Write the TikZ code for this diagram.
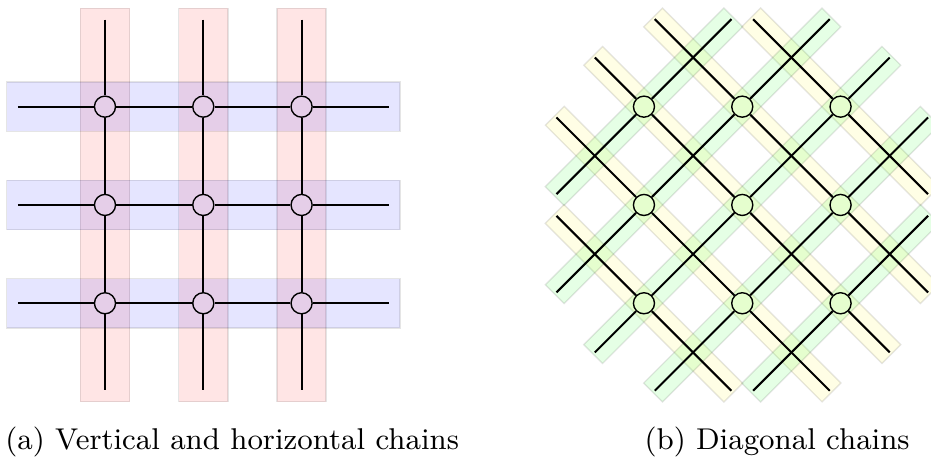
\documentclass[tikz,border=0pt]{standalone}
\begin{document}
\begin{tikzpicture}[
  band/.style={draw=black, draw opacity=0.1, fill opacity=0.1},
  rband/.style={band, fill=red},
  bband/.style={band, fill=blue},
  dband/.style={band, rectangle, inner sep=0pt, minimum height=0.27cm},
  yband/.style={dband, fill=yellow, rotate=-45},
  gband/.style={dband, fill=green, rotate=45},
  site/.style={circle, draw, thin, inner sep=0pt, minimum size=6.1pt},
  chain/.style={semithick},
  caption/.style={anchor=base west, inner sep=0pt, font=\fontsize{8.7}{10}\selectfont}]
\useasboundingbox (-1.068,1.085) rectangle (8.403,-3.645);

% (a) vertical and horizontal chains
\draw[rband] (-0.25,1.0) rectangle (0.25,-3.0);
\draw[rband] (0.75,1.0) rectangle (1.25,-3.0);
\draw[rband] (1.75,1.0) rectangle (2.25,-3.0);
\draw[bband] (-1.0,0.25) rectangle (3.0,-0.25);
\draw[bband] (-1.0,-0.75) rectangle (3.0,-1.25);
\draw[bband] (-1.0,-1.75) rectangle (3.0,-2.25);

\node[site] (a00) at (0,0) {};
\node[site] (a10) at (1,0) {};
\node[site] (a20) at (2,0) {};
\node[site] (a01) at (0,-1) {};
\node[site] (a11) at (1,-1) {};
\node[site] (a21) at (2,-1) {};
\node[site] (a02) at (0,-2) {};
\node[site] (a12) at (1,-2) {};
\node[site] (a22) at (2,-2) {};

\draw[chain] (a00) ++(0,0.885) -- (a00) -- (a01) -- (a02) -- ++(0,-0.885);
\draw[chain] (a10) ++(0,0.885) -- (a10) -- (a11) -- (a12) -- ++(0,-0.885);
\draw[chain] (a20) ++(0,0.885) -- (a20) -- (a21) -- (a22) -- ++(0,-0.885);
\draw[chain] (a00) ++(-0.885,0) -- (a00) -- (a10) -- (a20) -- ++(0.885,0);
\draw[chain] (a01) ++(-0.885,0) -- (a01) -- (a11) -- (a21) -- ++(0.885,0);
\draw[chain] (a02) ++(-0.885,0) -- (a02) -- (a12) -- (a22) -- ++(0.885,0);

% (b) diagonal chains
\node[yband, minimum width=2.57cm] (y2) at (7.483,0) {};
\node[yband, minimum width=3.98cm] (y1) at (6.983,-0.5) {};
\node[yband, minimum width=4.29cm] (y0) at (6.483,-1) {};
\node[yband, minimum width=3.98cm] (ym1) at (5.983,-1.5) {};
\node[yband, minimum width=2.57cm] (ym2) at (5.483,-2) {};
\node[gband, minimum width=2.57cm] (g0) at (5.483,0) {};
\node[gband, minimum width=3.98cm] (g1) at (5.983,-0.5) {};
\node[gband, minimum width=4.29cm] (g2) at (6.483,-1) {};
\node[gband, minimum width=3.98cm] (g3) at (6.983,-1.5) {};
\node[gband, minimum width=2.57cm] (g4) at (7.483,-2) {};

\node[site] (b00) at (5.483,0) {};
\node[site] (b10) at (6.483,0) {};
\node[site] (b20) at (7.483,0) {};
\node[site] (b01) at (5.483,-1) {};
\node[site] (b11) at (6.483,-1) {};
\node[site] (b21) at (7.483,-1) {};
\node[site] (b02) at (5.483,-2) {};
\node[site] (b12) at (6.483,-2) {};
\node[site] (b22) at (7.483,-2) {};

\draw[chain] (b20) ++(-0.89,0.89) -- (b20) -- ++(0.89,-0.89);
\draw[chain] (b10) ++(-0.89,0.89) -- (b10) -- (b21) -- ++(0.89,-0.89);
\draw[chain] (b00) ++(-0.5,0.5) -- (b00) -- (b11) -- (b22) -- ++(0.5,-0.5);
\draw[chain] (b01) ++(-0.89,0.89) -- (b01) -- (b12) -- ++(0.89,-0.89);
\draw[chain] (b02) ++(-0.89,0.89) -- (b02) -- ++(0.89,-0.89);
\draw[chain] (b00) ++(-0.89,-0.89) -- (b00) -- ++(0.89,0.89);
\draw[chain] (b01) ++(-0.89,-0.89) -- (b01) -- (b10) -- ++(0.89,0.89);
\draw[chain] (b02) ++(-0.5,-0.5) -- (b02) -- (b11) -- (b20) -- ++(0.5,0.5);
\draw[chain] (b12) ++(-0.89,-0.89) -- (b12) -- (b21) -- ++(0.89,0.89);
\draw[chain] (b22) ++(-0.89,-0.89) -- (b22) -- ++(0.89,0.89);

\node[caption] (capa) at (-1.02,-3.49) {(a) Vertical and horizontal chains};
\node[caption] (capb) at (5.483,-3.49) {(b) Diagonal chains};
\end{tikzpicture}
\end{document}
